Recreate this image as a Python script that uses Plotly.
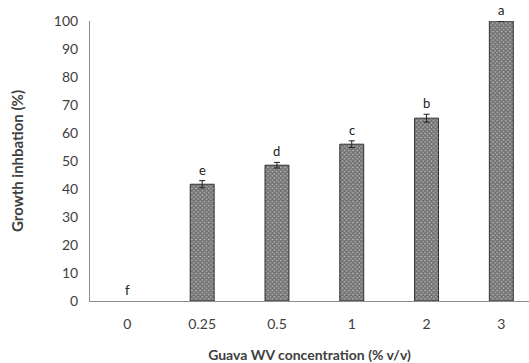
import plotly.graph_objects as go

# Growth inhibition by guava wood vinegar concentration
concentrations = ["0", "0.25", "0.5", "1", "2", "3"]
inhibition = [0, 41.7, 48.5, 56.0, 65.3, 100.0]
errors = [None, 1.3, 1.0, 1.2, 1.4, None]
letters = ["f", "e", "d", "c", "b", "a"]
y_ticks = [0, 10, 20, 30, 40, 50, 60, 70, 80, 90, 100]

FONT = "Lato, Open Sans, sans-serif"
TXT = "#404040"

fig = go.Figure()
fig.add_trace(go.Bar(
    x=list(range(len(concentrations))),
    # a zero-height bar is left undrawn so no stray outline appears on the axis
    y=[v if v else None for v in inhibition],
    width=0.32,
    marker=dict(
        color="#ffffff",
        line=dict(color="#303030", width=1),
        pattern=dict(shape="x", fgcolor="#2e2e2e", bgcolor="#b4b4b4", size=3, solidity=0.75),
    ),
    error_y=dict(type="data", array=errors, visible=True, color="#202020",
                 thickness=1, width=3),
    showlegend=False,
))

for i, (v, e, t) in enumerate(zip(inhibition, errors, letters)):
    fig.add_annotation(x=i, y=v + (e or 0), text=t, showarrow=False, yanchor="bottom",
                       yshift=1, font=dict(family=FONT, size=13, color="#202020"))

fig.update_layout(
    width=529, height=363,
    margin=dict(l=90, r=0, t=21, b=62),
    paper_bgcolor="white", plot_bgcolor="white",
    font=dict(family=FONT, size=14, color=TXT),
    xaxis=dict(
        range=[-0.5, 5.37],
        tickvals=list(range(len(concentrations))),
        ticktext=concentrations,
        showline=True, linecolor="#8c8c8c", linewidth=1,
        ticks="", showgrid=False, zeroline=False,
        ticklabelstandoff=10, automargin=False,
        tickfont=dict(family=FONT, size=14, color=TXT),
        title=dict(text="<b>Guava WV concentration (% v/v)</b>",
                   font=dict(family=FONT, size=14, color=TXT), standoff=24),
    ),
    yaxis=dict(
        range=[0, 100],
        tickvals=y_ticks,
        showline=True, linecolor="#8c8c8c", linewidth=1,
        ticks="", showgrid=False, zeroline=False,
        ticklabelstandoff=8, automargin=False,
        tickfont=dict(family=FONT, size=14, color=TXT),
        title=dict(text="<b>Growth inhbation (%)</b>",
                   font=dict(family=FONT, size=15, color=TXT), standoff=26),
    ),
)

fig.write_html("out.html")
